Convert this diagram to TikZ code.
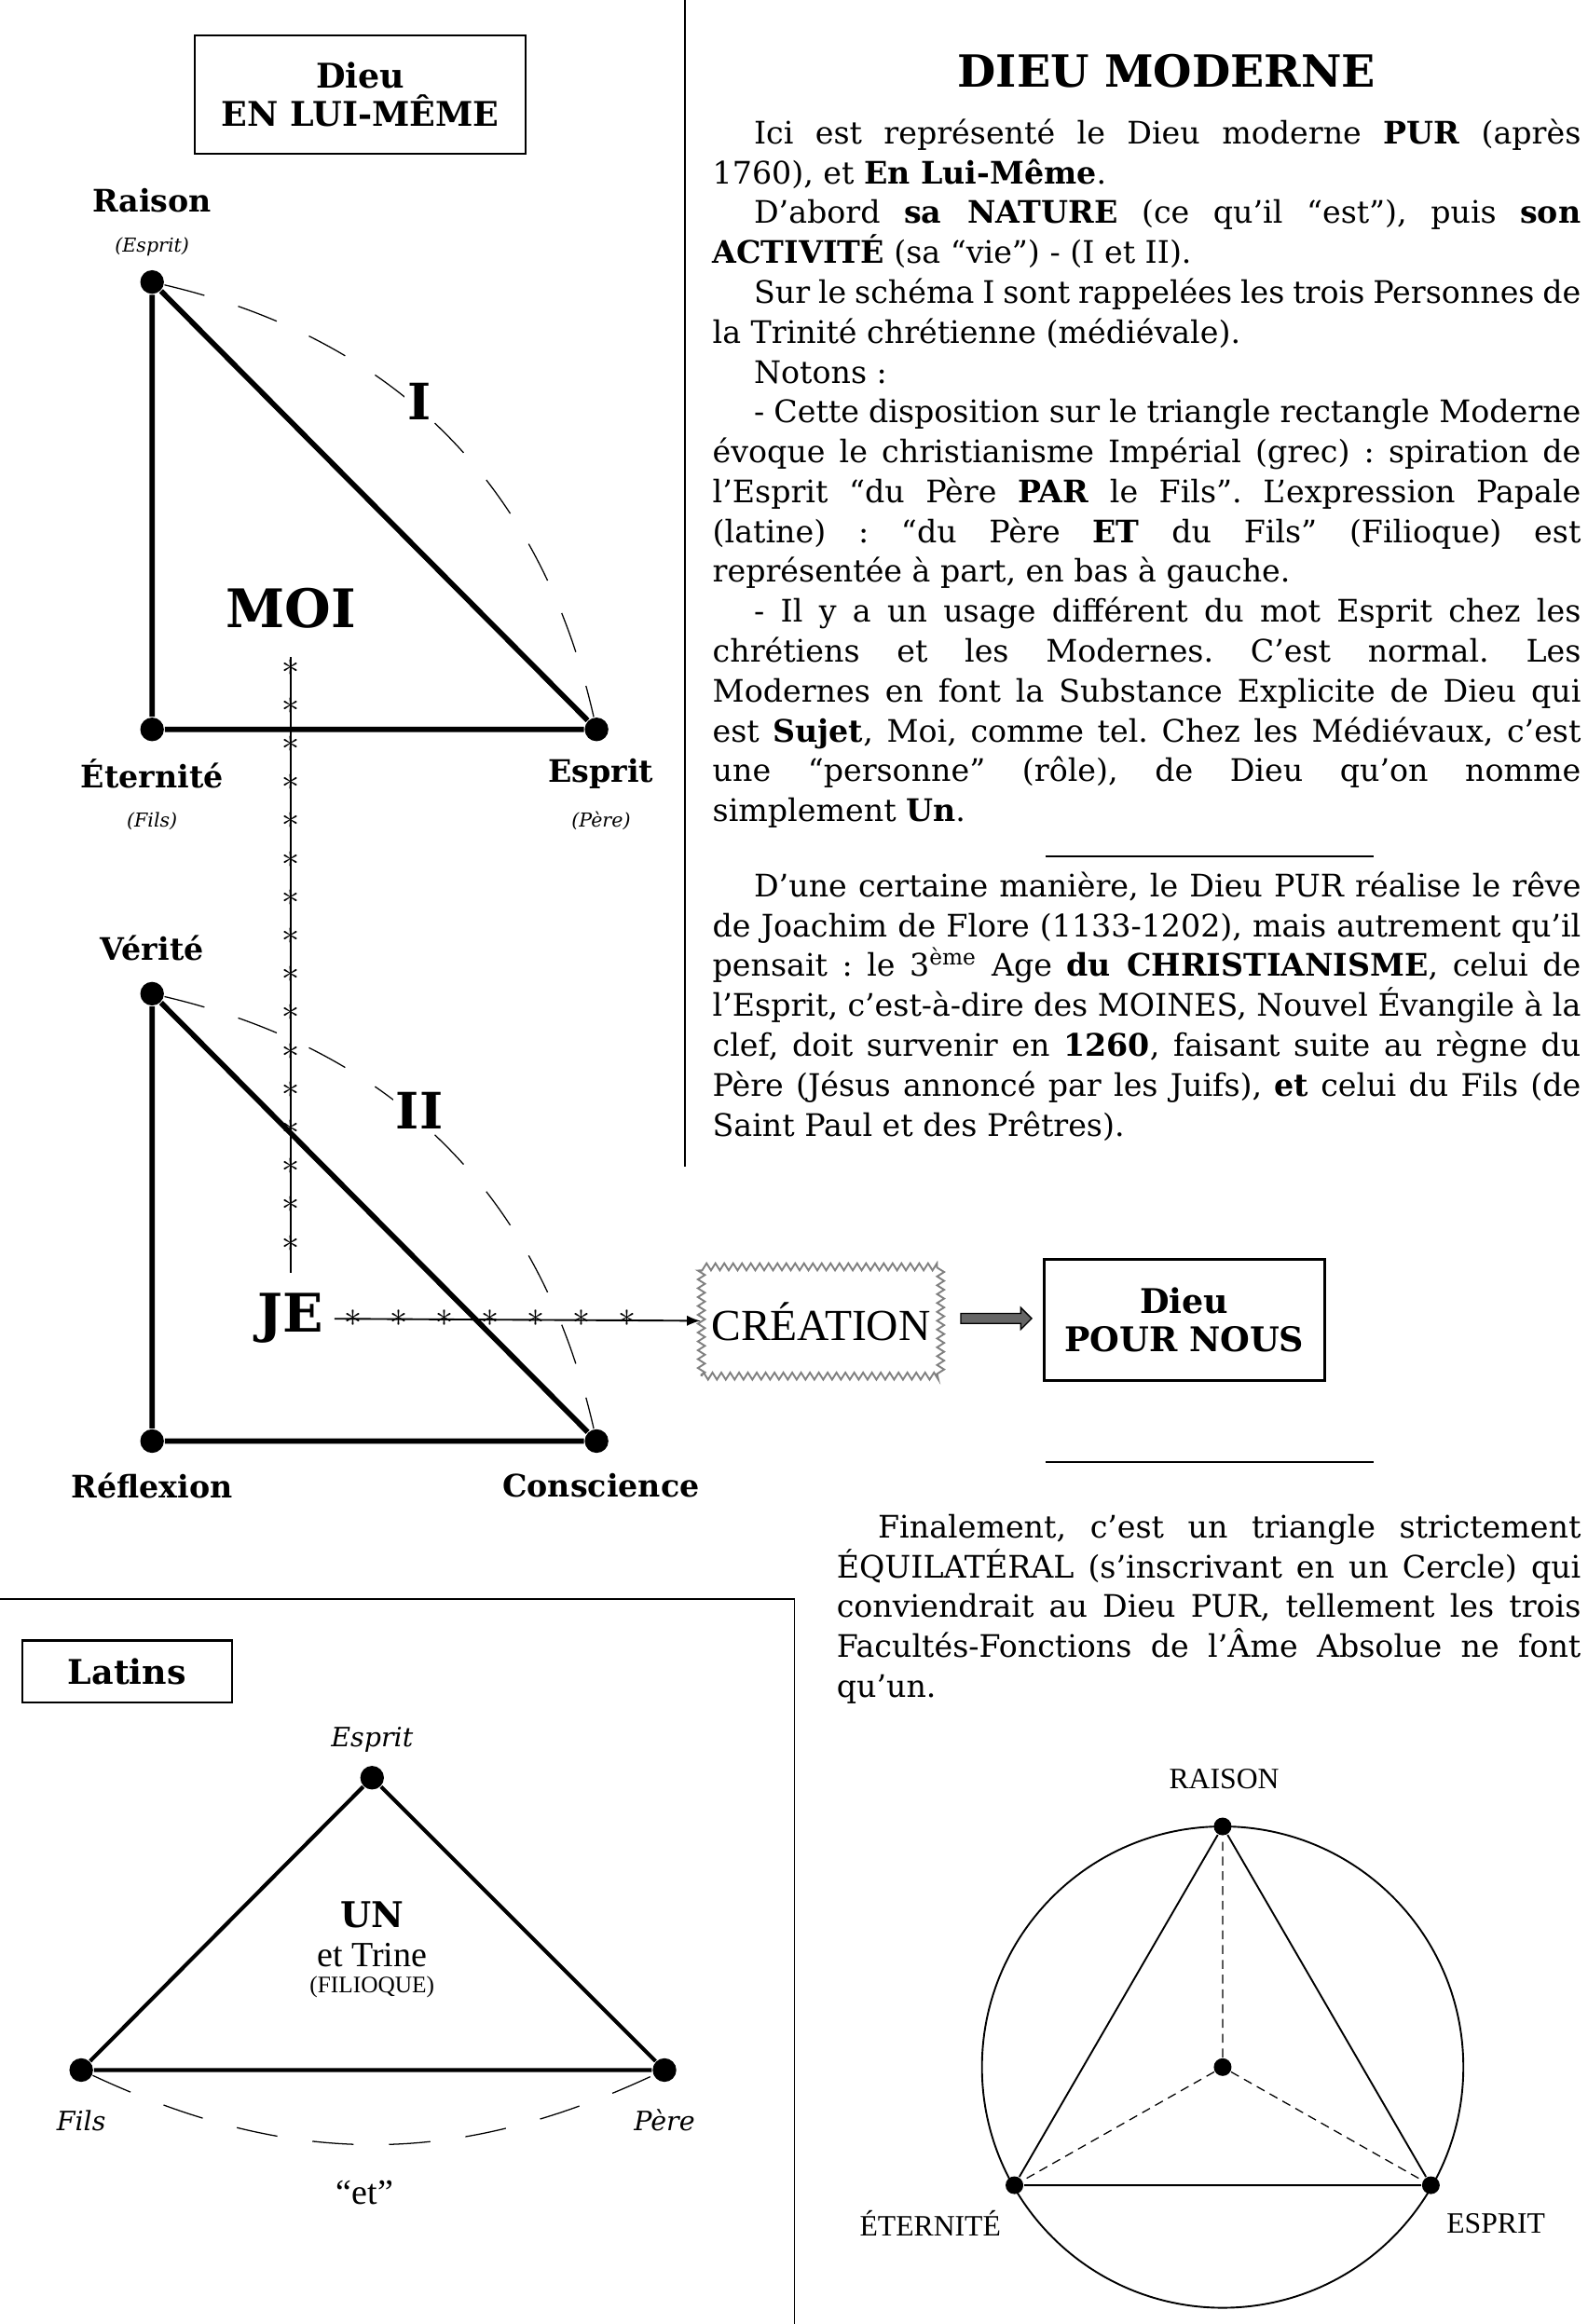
\documentclass[tikz,border=0pt]{standalone}
\usepackage{fontspec}
\setmainfont{DejaVu Serif}
\newfontfamily\labfont{Liberation Serif}
\usepackage{tikz}
\usetikzlibrary{positioning,decorations.pathmorphing,shapes.arrows}
\frenchspacing

\begin{document}
\begin{tikzpicture}[x=0.5pt,y=-0.5pt,semithick]
  \tikzstyle{dot}=[circle,fill=black,inner sep=0pt,minimum size=8pt]
  \tikzstyle{title box}=[draw,thick,font=\bfseries\fontsize{11.5}{13}\selectfont,align=center]
  \tikzstyle{vertex}=[font=\bfseries\fontsize{10.5}{12}\selectfont]
  \tikzstyle{small}=[font=\itshape\fontsize{6.5}{8}\selectfont]
  \tikzstyle{arc}=[thin,dash pattern=on 14pt off 12pt]
  \tikzstyle{side}=[line width=1.8pt]
  \tikzstyle{para}=[anchor=north west,inner sep=0pt,align=justify,
    font=\fontsize{10.5}{13.5}\selectfont]
  \tikzstyle{star}=[inner sep=0pt,font=\fontsize{13}{13}\selectfont]
  \useasboundingbox (0,0) rectangle (1075,1574);

  \draw (464,0) -- (464,790);
  \node[title box,minimum width=112pt,minimum height=40pt] (inself) at (244,64) {Dieu\\EN LUI-MÊME};

  % triangle I
  \node[dot] (raison) at (103,191) {};
  \node[dot] (eternite) at (103,494) {};
  \node[dot] (esprit) at (404,494) {};
  \draw[side] (raison) -- (eternite) -- (esprit) -- (raison);
  \draw[arc] (raison) to[bend left=32] (esprit);
  \node[vertex] at (103,136) {Raison};
  \node[small] at (103,167) {(Esprit)};
  \node[vertex] at (103,524) {Éternité};
  \node[small] at (103,556) {(Fils)};
  \node[vertex] at (407,524) {Esprit};
  \node[small] at (407,556) {(Père)};
  \node[font=\bfseries\fontsize{17}{17}\selectfont,fill=white,inner sep=1pt] (one) at (284,272) {I};
  \node[font=\bfseries\fontsize{18}{18}\selectfont] (moi) at (197,412) {MOI};

  % triangle II
  \node[dot] (verite) at (103,673) {};
  \node[dot] (reflexion) at (103,976) {};
  \node[dot] (conscience) at (404,976) {};
  \draw[side] (verite) -- (reflexion) -- (conscience) -- (verite);
  \draw[arc] (verite) to[bend left=32] (conscience);
  \node[vertex] at (103,642) {Vérité};
  \node[vertex] at (103,1006) {Réflexion};
  \node[vertex] at (407,1006) {Conscience};
  \node[font=\bfseries\fontsize{17}{17}\selectfont,fill=white,inner sep=1pt] (two) at (284,752) {II};
  \node[font=\bfseries\fontsize{18}{18}\selectfont] (je) at (197,893) {JE};

  % lines of stars
  \coordinate (vtop) at (197,445);
  \coordinate (vbot) at (197,862);
  \draw (vtop) -- (vbot);
  \foreach \y in {452,478,...,860} \node[star] at (197,\y) {$\ast$};

  \node[draw=gray,decorate,decoration={zigzag,segment length=3pt,amplitude=1.2pt},
        minimum width=81pt,minimum height=37pt,font=\labfont\fontsize{15}{15}\selectfont] (creation) at (556,895) {CRÉATION};
  \draw[-latex] (je) -- (creation);
  \foreach \x in {239,270,...,430} \node[star] at (\x,893) {$\ast$};
  \node[title box,minimum width=95pt,minimum height=41pt] (pournous) at (802,894) {Dieu\\POUR NOUS};
  \node[single arrow,fill=gray!80!black,draw=black,thin,minimum height=24pt,
        single arrow head extend=2pt,inner sep=1.5pt] (fat) at (673,893) {};

  % text
  \node[font=\bfseries\fontsize{15}{15}\selectfont] (titre) at (790,48) {DIEU MODERNE};
  \node[para,text width=294pt] (p1) at (482,80) {\setlength{\parindent}{14pt}\indent
Ici est représenté le Dieu moderne \textbf{PUR} (après\linebreak 1760), et \textbf{En Lui-Même}.\par
D’abord \textbf{sa NATURE} (ce qu’il “est”), puis \textbf{son}\linebreak \textbf{ACTIVITÉ} (sa “vie”) - (I et II).\par
Sur le schéma I sont rappelées les trois Personnes de\linebreak la Trinité chrétienne (médiévale).\par
Notons :\par
- Cette disposition sur le triangle rectangle Moderne\linebreak évoque le christianisme Impérial (grec) : spiration de\linebreak l’Esprit “du Père \textbf{PAR} le Fils”. L’expression Papale\linebreak (latine) : “du Père \textbf{ET} du Fils” (Filioque) est\linebreak représentée à part, en bas à gauche.\par
- Il y a un usage différent du mot Esprit chez les\linebreak chrétiens et les Modernes. C’est normal. Les\linebreak Modernes en font la Substance Explicite de Dieu qui\linebreak est \textbf{Sujet}, Moi, comme tel. Chez les Médiévaux, c’est\linebreak une “personne” (rôle), de Dieu qu’on nomme\linebreak simplement \textbf{Un}.};
  \draw (708,580) -- (930,580);
  \node[para,text width=294pt] (p2) at (482,590) {\setlength{\parindent}{14pt}\indent
D’une certaine manière, le Dieu PUR réalise le rêve\linebreak de Joachim de Flore (1133-1202), mais autrement qu’il\linebreak pensait : le 3\textsuperscript{ème} Age \textbf{du CHRISTIANISME}, celui de\linebreak l’Esprit, c’est-à-dire des MOINES, Nouvel Évangile à la\linebreak clef, doit survenir en \textbf{1260}, faisant suite au règne du\linebreak Père (Jésus annoncé par les Juifs), \textbf{et} celui du Fils (de\linebreak Saint Paul et des Prêtres).};
  \draw (708,990) -- (930,990);
  \node[para,text width=252pt] (p3) at (566,1025) {\setlength{\parindent}{14pt}\indent
Finalement, c’est un triangle strictement\linebreak ÉQUILATÉRAL (s’inscrivant en un Cercle) qui\linebreak conviendrait au Dieu PUR, tellement les trois\linebreak Facultés-Fonctions de l’Âme Absolue ne font\linebreak qu’un.};

  % Latins
  \draw (0,1083) -- (538,1083) -- (538,1574);
  \node[title box,minimum width=71pt,minimum height=21pt] (latins) at (86,1132) {Latins};
  \node[dot] (lesprit) at (252,1204) {};
  \node[dot] (fils) at (55,1402) {};
  \node[dot] (pere) at (450,1402) {};
  \draw[line width=1.3pt] (lesprit) -- (pere) -- (fils) -- (lesprit);
  \draw[arc] (fils) to[bend right=25] (pere);
  \node[font=\itshape\fontsize{9}{9}\selectfont] at (252,1178) {Esprit};
  \node[font=\itshape\fontsize{9}{9}\selectfont] at (55,1436) {Fils};
  \node[font=\itshape\fontsize{9}{9}\selectfont] at (450,1436) {Père};
  \node[font=\bfseries\fontsize{12}{12}\selectfont] (un) at (252,1297) {UN};
  \node[font=\labfont\fontsize{12}{12}\selectfont] (trine) at (252,1324) {et Trine};
  \node[font=\labfont\fontsize{8}{8}\selectfont] (filioque) at (252,1346) {(FILIOQUE)};
  \node[font=\labfont\fontsize{12}{12}\selectfont] (et) at (247,1485) {“et”};

  % cercle
  \draw (828,1400) circle (163);
  \node[dot,minimum size=6pt] (centre) at (828,1400) {};
  \node[dot,minimum size=6pt] (craison) at (828,1237) {};
  \node[dot,minimum size=6pt] (ceternite) at (687,1480) {};
  \node[dot,minimum size=6pt] (cesprit) at (969,1480) {};
  \draw (craison) -- (ceternite) -- (cesprit) -- (craison);
  \draw[thin,densely dashed] (centre) -- (craison) (centre) -- (ceternite) (centre) -- (cesprit);
  \node[font=\labfont\fontsize{10}{10}\selectfont] at (829,1205) {RAISON};
  \node[font=\labfont\fontsize{10}{10}\selectfont] at (630,1506) {ÉTERNITÉ};
  \node[font=\labfont\fontsize{10}{10}\selectfont] at (1013,1506) {ESPRIT};
\end{tikzpicture}
\end{document}
